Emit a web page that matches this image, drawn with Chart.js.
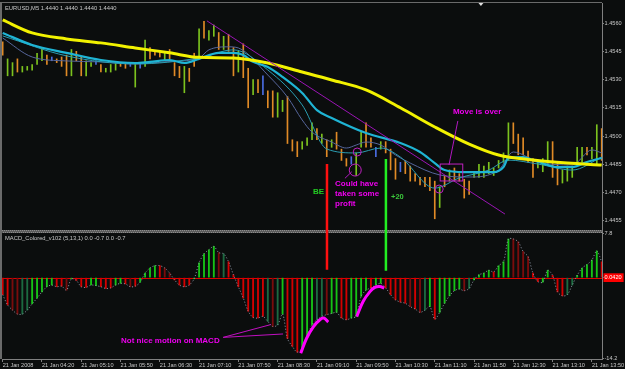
<!DOCTYPE html>
<html><head><meta charset="utf-8">
<script src="https://cdn.jsdelivr.net/npm/chart.js@4.4.1/dist/chart.umd.min.js"></script>
<style>html,body{margin:0;padding:0;background:#0b0d0d;}canvas{display:block;}</style>
</head><body>
<canvas id="c" width="625" height="369"></canvas>
<script>
// ---------- data ----------
const titleMain = 'EURUSD,M5 1.4440 1.4440 1.4440 1.4440';
const titleMacd = 'MACD_Colored_v102 (5,13,1) 0.0 -0.7 0.0 -0.7';
const timeLabels = ['21 Jan 2008','21 Jan 04:20','21 Jan 05:10','21 Jan 05:50','21 Jan 06:30','21 Jan 07:10','21 Jan 07:50','21 Jan 08:30','21 Jan 09:10','21 Jan 09:50','21 Jan 10:30','21 Jan 11:10','21 Jan 11:50','21 Jan 12:30','21 Jan 13:10','21 Jan 13:50'];
const timeTickBars = [0,8,16,24,32,40,48,56,64,72,80,88,96,104,112,120];
const priceTicks = [1.4455,1.4470,1.4485,1.4500,1.4515,1.4530,1.4545,1.4560];
const macdTicks = [7.8,-14.2];
const macdCurrentLabel = '0.0420';

const barHigh = [1.4550,1.4541,1.4539,1.4541,1.4537,1.4537,1.4538,1.4544,1.4547,1.4543,
1.4542,1.4541,1.4542,1.4543,1.4546,1.4545,1.4542,1.4540,1.4539,1.4540,
1.4538,1.4536,1.4538,1.4539,1.4539,1.4539,1.4539,1.4539,1.4539,1.4551,
1.4547,1.4545,1.4545,1.4544,1.4546,1.4539,1.4537,1.4537,1.4536,1.4544,
1.4557,1.4561,1.4556,1.4559,1.4555,1.4553,1.4554,1.4547,1.4545,1.4549,
1.4536,1.4530,1.4530,1.4532,1.4524,1.4524,1.4523,1.4519,1.4521,1.4498,
1.4497,1.4497,1.4499,1.4507,1.4504,1.4501,1.4498,1.4498,1.4502,1.4493,
1.4488,1.4489,1.4491,1.4502,1.4507,1.4499,1.4494,1.4497,1.4497,1.4493,
1.4488,1.4486,1.4487,1.4484,1.4480,1.4478,1.4478,1.4478,1.4476,1.4473,
1.4479,1.4482,1.4483,1.4480,1.4477,1.4476,1.4481,1.4485,1.4484,1.4486,
1.4483,1.4487,1.4491,1.4507,1.4507,1.4501,1.4499,1.4492,1.4488,1.4487,
1.4488,1.4497,1.4497,1.4486,1.4482,1.4484,1.4484,1.4494,1.4494,1.4494,
1.4494,1.4506,1.4504];
const barLow = [1.4543,1.4532,1.4532,1.4534,1.4534,1.4535,1.4535,1.4538,1.4540,1.4538,
1.4540,1.4539,1.4537,1.4532,1.4532,1.4540,1.4532,1.4532,1.4537,1.4538,
1.4534,1.4534,1.4534,1.4535,1.4537,1.4536,1.4537,1.4526,1.4536,1.4537,
1.4541,1.4543,1.4542,1.4540,1.4541,1.4532,1.4531,1.4523,1.4529,1.4537,
1.4542,1.4552,1.4551,1.4553,1.4546,1.4546,1.4545,1.4532,1.4534,1.4531,
1.4515,1.4522,1.4523,1.4522,1.4515,1.4510,1.4510,1.4513,1.4496,1.4492,
1.4489,1.4493,1.4495,1.4498,1.4498,1.4496,1.4489,1.4494,1.4493,1.4487,
1.4484,1.4485,1.4479,1.4494,1.4494,1.4494,1.4489,1.4493,1.4491,1.4482,
1.4477,1.4481,1.4480,1.4476,1.4476,1.4474,1.4473,1.4471,1.4456,1.4462,
1.4473,1.4476,1.4476,1.4476,1.4467,1.4469,1.4478,1.4478,1.4478,1.4480,
1.4479,1.4483,1.4486,1.4487,1.4496,1.4490,1.4490,1.4486,1.4478,1.4483,
1.4481,1.4485,1.4478,1.4474,1.4475,1.4476,1.4478,1.4485,1.4486,1.4490,
1.4488,1.4485,1.4487];
// u = up bar, d = down bar, n = unchanged bar
const barKind = ('duuduuuuud'+'ndddudduun'+'duuuddnunu'+'dddudddudd'+'uduududdud'+
  'dudndduudd'+'duuudududd'+'dnuuddnudd'+'dndddddddu'+'dudddduuuu'+'uuuudddddu'+'uudduuuuud'+'uud').split('');

const slowMaBars = [0,6,13,20,27,34,40,47,54,61,67,74,81,88,95,101,108,115,122];
const slowMa = [1.45617,1.45548,1.45516,1.45495,1.45468,1.45442,1.45418,1.45415,1.45388,1.45340,1.45298,1.45245,1.45150,1.45048,1.44957,1.44899,1.44872,1.44856,1.44846];
const midMaBars = [0,6,13,20,27,30,34,37,40,44,47,49,51,54,57,61,64,67,74,81,85,88,90,94,100,102,103,106,108,113,116,119,122];
const midMa = [1.45548,1.45484,1.45442,1.45404,1.45388,1.45394,1.45404,1.45388,1.45410,1.45442,1.45442,1.45431,1.45394,1.45367,1.45314,1.45229,1.45138,1.45096,1.45016,1.44963,1.44915,1.44856,1.44819,1.44808,1.44808,1.44835,1.44883,1.44888,1.44872,1.44835,1.44835,1.44862,1.44883];
const fastMaBars = [0,13,27,40,47,54,61,66,72,77,81,88,93,99,103,109,116,122];
const fastMa = [1.45532,1.45426,1.45383,1.45415,1.45458,1.45351,1.45165,1.44931,1.44910,1.44936,1.44888,1.44723,1.44777,1.44819,1.44872,1.44851,1.44819,1.44888];
const quickMaBars = [0,6,13,20,27,33,40,42,46,48,54,58,61,63,67,70,72,74,77,80,83,89,95,101,104,109,116,120,122];
const quickMa = [1.45521,1.45420,1.45399,1.45394,1.45383,1.45394,1.45415,1.45458,1.45474,1.45468,1.45324,1.45207,1.45085,1.45021,1.44968,1.44936,1.44952,1.44968,1.44952,1.44899,1.44856,1.44793,1.44782,1.44819,1.44915,1.44862,1.44846,1.44926,1.44910];

const macd = [-3.0,-4.8,-5.7,-6.4,-6.4,-5.7,-4.6,-3.6,-2.5,-1.6,
-1.3,-1.6,-1.5,-2.2,-0.2,-0.5,-1.6,-1.7,-1.3,-1.4,
-1.6,-1.9,-1.8,-1.3,-1.0,-1.1,-1.6,-1.5,-0.8,0.8,
1.7,2.1,2.1,1.7,0.8,-0.4,-1.3,-1.6,-1.3,-0.2,
2.6,4.2,4.9,5.5,4.4,4.2,2.8,0.5,-1.6,-3.6,
-5.9,-7.0,-7.1,-6.8,-7.7,-8.6,-8.3,-6.4,-10.7,-12.1,
-13.1,-12.4,-10.4,-8.3,-7.4,-6.8,-6.5,-6.3,-6.1,-7.1,
-7.4,-7.1,-6.8,-3.3,-2.2,-1.8,-1.3,-1.0,-1.8,-3.0,
-3.9,-4.3,-4.5,-5.1,-5.5,-6.1,-5.7,-5.1,-7.3,-6.1,
-4.5,-3.2,-2.3,-2.0,-2.3,-1.9,-0.4,0.5,0.8,1.3,
1.0,2.1,2.8,6.8,6.8,6.3,4.6,3.7,0.8,-0.7,
-0.8,1.3,0.4,-2.5,-3.2,-3.0,-1.3,0.4,1.7,2.3,
3.1,4.7,2.8];
// G bright green, g dark green, R red, r dark red
const macdKind = ('RRrrggGGGG'+'GRRrGRRRGG'+'RRRGGRrRGG'+'GGRrrRRRRG'+'GGGGrgRRRR'+'RRRRgrgGRR'+
  'RGGGggrGGR'+'RGGGGRGGRR'+'RRRrRrgGRG'+'GGGGrgGGGG'+'RGGGrrrrRR'+'GGRRRggGGG'+'GGR').split('');

const trendBars = [41.6,102.3];
const trendPrices = [1.45612,1.44585];
const markerBars = [66.05,78.05];
const markerTopPrices = [1.44851,1.44878];
const markerMacdEnds = [1.4,1.2];
const curve1Bars = [60.7,61.9,63.3,64.6,65.4,66.3];
const curve1Macd = [-13.3,-10.65,-8.6,-7.4,-7.1,-7.8];
const curve2Bars = [72.1,73.4,74.8,75.8,76.8,77.7];
const curve2Macd = [-6.85,-4.2,-2.45,-1.7,-1.55,-1.85];
const pointerFrom = [44.9,-10.5];
const pointerTo1 = [54.6,-8.25];
const pointerTo2 = [57.1,-9.9];
const moveLineBars = [90.9,92.7];
const moveLinePrices = [1.44846,1.4508];
const profitLineBars = [69.7,71.1];
const profitLinePrices = [1.44775,1.4481];
const boxBars = [89.1,93.7];
const boxPrices = [1.44851,1.44761];
const circleBars = [88.9,72.2,71.8];
const circlePrices = [1.44718,1.44915,1.44819];
const noteMove = 'Move is over';   const noteMoveAt = [91.7,1.45128];
const noteProfit = ['Could have','taken some','profit']; const noteProfitAt = [67.7,1.44745];
const noteBE = 'BE';   const noteBEAt = [63.2,1.44702];
const note20 = '+20';  const note20At = [79.1,1.44676];
const noteMacd = 'Not nice motion on MACD'; const noteMacdAt = [24.1,-11.1];
const shiftMarkBar = 97.4;

// ---------- layout / style ----------
const X_MIN = -0.14, X_MAX = 122.06;
const P_MIN = 1.44495, P_MAX = 1.45707;
const M_MIN = -14.3, M_MAX = 8.2;
const BG = '#0b0d0d', AX = '#808080', TXT = '#c8c8c8';
const FAM = "'Liberation Sans', Arial, sans-serif";
const MAG = '#ee00ee';
const barCol = {u:'#7cc21e', d:'#e08a26', n:'#4a6ce0'};
const macdCol = {G:'#16c416', g:'#1c6a40', R:'#d40000', r:'#7a0c0c'};

const pts = (xs, ys) => xs.map((x,i)=>({x, y:ys[i]}));

const datasets = [
  {type:'line', yAxisID:'m', data:pts(curve1Bars,curve1Macd), borderColor:'#ff00ff', borderWidth:3, tension:0.4, pointRadius:0, order:1},
  {type:'line', yAxisID:'m', data:pts(curve2Bars,curve2Macd), borderColor:'#ff00ff', borderWidth:3, tension:0.4, pointRadius:0, order:1},
  {type:'line', yAxisID:'m', data:[{x:pointerFrom[0],y:pointerFrom[1]},{x:pointerTo1[0],y:pointerTo1[1]}], borderColor:'#c010c0', borderWidth:1, pointRadius:0, order:1},
  {type:'line', yAxisID:'m', data:[{x:pointerFrom[0],y:pointerFrom[1]},{x:pointerTo2[0],y:pointerTo2[1]}], borderColor:'#c010c0', borderWidth:1, pointRadius:0, order:1},
  {type:'line', yAxisID:'y', data:pts([markerBars[0],markerBars[0]],[markerTopPrices[0],P_MIN]), borderColor:'#ff1010', borderWidth:2.5, pointRadius:0, order:1},
  {type:'line', yAxisID:'m', data:pts([markerBars[0],markerBars[0]],[M_MAX,markerMacdEnds[0]]), borderColor:'#ff1010', borderWidth:2.5, pointRadius:0, order:1},
  {type:'line', yAxisID:'y', data:pts([markerBars[1],markerBars[1]],[markerTopPrices[1],P_MIN]), borderColor:'#22ee22', borderWidth:2.5, pointRadius:0, order:1},
  {type:'line', yAxisID:'m', data:pts([markerBars[1],markerBars[1]],[M_MAX,markerMacdEnds[1]]), borderColor:'#22ee22', borderWidth:2.5, pointRadius:0, order:1},
  {type:'line', yAxisID:'y', data:pts(trendBars,trendPrices), borderColor:'#9a14b4', borderWidth:1, pointRadius:0, order:2},
  {type:'line', yAxisID:'y', data:pts(moveLineBars,moveLinePrices), borderColor:'#b018c0', borderWidth:1, pointRadius:0, order:2},
  {type:'line', yAxisID:'y', data:pts(profitLineBars,profitLinePrices), borderColor:'#b018c0', borderWidth:1, pointRadius:0, order:2},
  {type:'line', yAxisID:'y', data:pts(slowMaBars,slowMa), borderColor:'#f2f200', borderWidth:3, cubicInterpolationMode:'monotone', pointRadius:0, order:3},
  {type:'line', yAxisID:'y', data:pts(midMaBars,midMa), borderColor:'#1fb4d4', borderWidth:2.2, cubicInterpolationMode:'monotone', pointRadius:0, order:4},
  {type:'line', yAxisID:'y', data:pts(fastMaBars,fastMa), borderColor:'#2a9cb0', borderWidth:1, cubicInterpolationMode:'monotone', pointRadius:0, order:5},
  {type:'line', yAxisID:'y', data:pts(quickMaBars,quickMa), borderColor:'#56669c', borderWidth:1, cubicInterpolationMode:'monotone', pointRadius:0, order:6},
  {type:'bar', yAxisID:'y', grouped:false, barThickness:1, data:barHigh.map((h,i)=>({x:i, y:[barLow[i],h]})),
    backgroundColor:barKind.map(k=>barCol[k]), borderWidth:0, order:7},
  {type:'line', yAxisID:'m', data:macd.map((v,i)=>({x:i,y:v})), borderColor:'#8e96a6', borderWidth:1, borderDash:[1,2], pointRadius:0, tension:0.3, order:8},
  {type:'bar', yAxisID:'m', grouped:false, barThickness:1.2, data:macd.map((v,i)=>({x:i,y:v})),
    backgroundColor:macdKind.map(k=>macdCol[k]), borderWidth:0, order:9}
];

const tickFont = {family:FAM, size:5.6};

const overlay = {
  id:'overlay',
  beforeDraw(chart){
    const c = chart.ctx; c.save(); c.fillStyle = BG; c.fillRect(0,0,chart.width,chart.height); c.restore();
  },
  beforeDatasetsDraw(chart){
    const c = chart.ctx, a = chart.chartArea, m = chart.scales.m, y = chart.scales.y;
    c.save();
    const sy = Math.round(y.bottom);
    c.fillStyle = '#5c5c5c'; c.fillRect(0, sy-1, a.right, 3);
    c.fillStyle = '#8c8c8c';
    for (let px = 0; px < a.right; px += 2) { c.fillRect(px, sy-1, 1, 1); c.fillRect(px+1, sy+1, 1, 1); }
    const z = Math.round(m.getPixelForValue(0)) + 0.5;
    c.strokeStyle = '#e00000'; c.lineWidth = 1;
    c.beginPath(); c.moveTo(a.left, z); c.lineTo(a.right, z); c.stroke();
    c.restore();
  },
  afterDatasetsDraw(chart){
    const c = chart.ctx, a = chart.chartArea, x = chart.scales.x, y = chart.scales.y, m = chart.scales.m;
    c.save();
    c.fillStyle = '#6a6a6a';
    c.fillRect(0, 2, a.right, 1);
    c.fillRect(0, 2, 2, a.bottom - 2);
    const sx = x.getPixelForValue(shiftMarkBar);
    c.fillStyle = '#e0e0e0'; c.beginPath(); c.moveTo(sx-2.5, 3); c.lineTo(sx+2.5, 3); c.lineTo(sx, 6); c.closePath(); c.fill();
    c.textBaseline = 'middle'; c.textAlign = 'left';
    c.font = `5.8px ${FAM}`; c.fillStyle = TXT;
    c.fillText(titleMain, 5, y.top + 5);
    c.fillText(titleMacd, 5, m.top + 7);
    c.strokeStyle = '#c020c0'; c.lineWidth = 1;
    const bx0 = x.getPixelForValue(boxBars[0]), bx1 = x.getPixelForValue(boxBars[1]);
    const by0 = y.getPixelForValue(boxPrices[0]), by1 = y.getPixelForValue(boxPrices[1]);
    c.strokeRect(bx0, by0, bx1 - bx0, by1 - by0);
    const radii = [4, 4, 6];
    circleBars.forEach((b,i)=>{
      c.beginPath(); c.arc(x.getPixelForValue(b), y.getPixelForValue(circlePrices[i]), radii[i], 0, Math.PI*2); c.stroke();
    });
    c.font = `bold 8px ${FAM}`;
    c.fillStyle = MAG;
    c.fillText(noteMove, x.getPixelForValue(noteMoveAt[0]), y.getPixelForValue(noteMoveAt[1]));
    const py = y.getPixelForValue(noteProfitAt[1]), pxx = x.getPixelForValue(noteProfitAt[0]);
    noteProfit.forEach((t,i)=> c.fillText(t, pxx, py + i*10));
    c.fillText(noteMacd, x.getPixelForValue(noteMacdAt[0]), m.getPixelForValue(noteMacdAt[1]));
    c.fillStyle = '#22cc22';
    c.fillText(noteBE, x.getPixelForValue(noteBEAt[0]), y.getPixelForValue(noteBEAt[1]));
    c.fillStyle = '#3cc83c';
    c.font = `bold 7.5px ${FAM}`;
    c.fillText(note20, x.getPixelForValue(note20At[0]), y.getPixelForValue(note20At[1]));
    c.restore();
  }
};

new Chart(document.getElementById('c'), {
  type:'line',
  data:{datasets},
  options:{
    responsive:false, maintainAspectRatio:false, animation:false, devicePixelRatio:1, events:[],
    layout:{padding:{left:2, top:3, right:0, bottom:0}},
    plugins:{legend:{display:false}, tooltip:{enabled:false}},
    scales:{
      x:{type:'linear', position:'bottom', min:X_MIN, max:X_MAX, offset:false,
        afterBuildTicks:s=>{ s.ticks = timeTickBars.map(v=>({value:v})); },
        afterFit:s=>{ s.height = 10; s.paddingLeft = 0; s.paddingRight = 0; },
        grid:{drawOnChartArea:false, tickLength:3, color:AX, offset:false},
        border:{display:true, color:AX},
        ticks:{autoSkip:false, maxRotation:0, minRotation:0, align:'start', padding:0, color:TXT, font:tickFont,
          callback:(v,i)=>timeLabels[i]}
      },
      y:{type:'linear', position:'right', stack:'panes', stackWeight:228, weight:1, min:P_MIN, max:P_MAX,
        afterBuildTicks:s=>{ s.ticks = priceTicks.map(v=>({value:v})); },
        afterFit:s=>{ s.width = 23; s.paddingTop = 0; s.paddingBottom = 0; },
        grid:{drawOnChartArea:false, tickLength:2, color:AX},
        border:{display:true, color:AX},
        ticks:{padding:0.5, color:TXT, font:tickFont, callback:v=>v.toFixed(4)}
      },
      m:{type:'linear', axis:'y', position:'right', stack:'panes', stackWeight:128, weight:2, min:M_MIN, max:M_MAX,
        afterBuildTicks:s=>{ s.ticks = macdTicks.concat([0]).map(v=>({value:v})); },
        afterFit:s=>{ s.width = 23; s.paddingTop = 0; s.paddingBottom = 0; },
        grid:{drawOnChartArea:false, tickLength:2, color:AX},
        border:{display:true, color:AX},
        ticks:{padding:0.5, font:tickFont,
          color:ctx=> (ctx.tick && ctx.tick.value===0) ? '#ffffff' : TXT,
          showLabelBackdrop:ctx=> !!(ctx.tick && ctx.tick.value===0),
          backdropColor:'#ff0000', backdropPadding:{left:1,right:2,top:1,bottom:1},
          callback:v=> v===0 ? macdCurrentLabel : v.toFixed(1)}
      }
    }
  },
  plugins:[overlay]
});
</script>
</body></html>
